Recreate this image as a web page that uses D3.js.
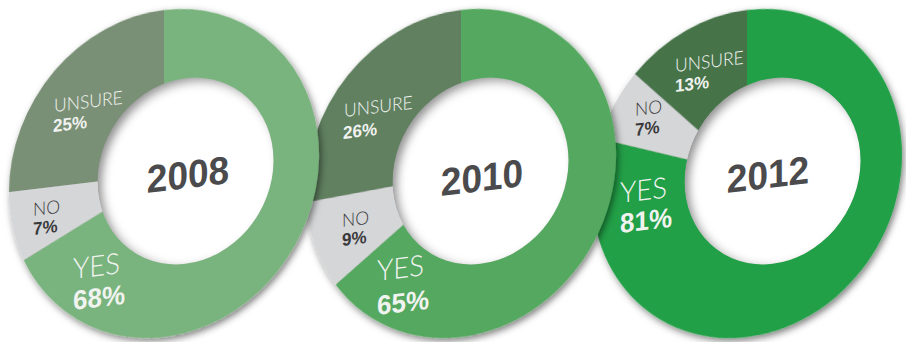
<!DOCTYPE html>
<html>
<head>
<meta charset="utf-8">
<script src="https://cdn.jsdelivr.net/npm/d3@7"></script>
<style>
  html, body { margin: 0; padding: 0; background: #fff; }
  svg { display: block; }
</style>
</head>
<body>
<svg id="chart" width="906" height="342"></svg>
<script>
// Survey answers by year (percent)
const years = ["2008", "2010", "2012"];
const answers = ["YES", "NO", "UNSURE"];
const yesPct = [68, 65, 81];
const noPct = [7, 9, 7];
const unsurePct = [25, 26, 13];

// Fills per year
const yesColors = ["#79b37d", "#54a85e", "#21a046"];
const unsureColors = ["#7a9076", "#608060", "#467349"];
const noColor = "#d5d6d8";

// Ring geometry: every ring lies in a slightly tilted plane
const skew = -0.12, stretch = 1.055;
const ringCx = [164, 461, 747];
const ringCy = 173.5;
const outerR = 155;
const holeCx = [185.5, 480.5, 772.5];
const holeCy = 171;
const holeR = 88;

// Label anchors in page pixels (left end of baseline; year = centre of baseline)
const labelPos = [
  { YES: [[73, 279], [73, 310]], NO: [[33, 216], [33, 235]], UNSURE: [[54, 112], [53, 132]], year: [188, 188] },
  { YES: [[377, 281], [377, 315]], NO: [[342, 227], [342, 246]], UNSURE: [[344, 117], [343, 139]], year: [482, 191] },
  { YES: [[620, 203], [620, 233]], NO: [[635, 116], [635, 136]], UNSURE: [[675, 72], [675, 92]], year: [768, 188] }
];

const svg = d3.select("#chart");
const defs = svg.append("defs");

defs.append("filter").attr("id", "ringShadow")
  .attr("x", "-20%").attr("y", "-20%").attr("width", "140%").attr("height", "140%")
  .append("feDropShadow")
  .attr("dx", 2).attr("dy", 3).attr("stdDeviation", 3.5)
  .attr("flood-color", "#000").attr("flood-opacity", 0.5);

defs.append("filter").attr("id", "soft")
  .attr("x", "-20%").attr("y", "-20%").attr("width", "140%").attr("height", "140%")
  .append("feGaussianBlur").attr("stdDeviation", 5);

const pie = d3.pie().sort(null).value(d => d.value);
const arc = d3.arc().innerRadius(0).outerRadius(outerR);

function toLocal(i, x, y) {
  const u = x - ringCx[i];
  const v = (y - ringCy - skew * u) / stretch;
  return [u, v];
}

// Draw from right to left so the earlier year sits on top
for (let i = years.length - 1; i >= 0; i--) {
  const data = [
    { key: "YES", value: yesPct[i], color: yesColors[i] },
    { key: "NO", value: noPct[i], color: noColor },
    { key: "UNSURE", value: unsurePct[i], color: unsureColors[i] }
  ];

  const g = svg.append("g")
    .attr("transform", `matrix(1,${skew},0,${stretch},${ringCx[i]},${ringCy})`);

  const ring = g.append("g").attr("filter", "url(#ringShadow)");
  ring.selectAll("path")
    .data(pie(data))
    .join("path")
    .attr("d", arc)
    .attr("fill", d => d.data.color);

  // Hole with a soft inner shadow along its upper-left rim
  const [hx, hy] = toLocal(i, holeCx[i], holeCy);
  const clipId = "hole" + i;
  defs.append("clipPath").attr("id", clipId)
    .append("circle").attr("cx", hx).attr("cy", hy).attr("r", holeR);
  const hole = g.append("g").attr("clip-path", `url(#${clipId})`);
  hole.append("circle").attr("cx", hx).attr("cy", hy).attr("r", holeR).attr("fill", "#8f8f8f");
  hole.append("circle").attr("cx", hx + 5).attr("cy", hy + 4).attr("r", holeR + 1)
    .attr("fill", "#fff").attr("filter", "url(#soft)");

  // Answer labels
  data.forEach(d => {
    const [p1, p2] = labelPos[i][d.key];
    const big = d.key === "YES";
    const light = d.key === "NO" ? "#3a3a3c" : "#f1f3f1";
    const a = toLocal(i, p1[0], p1[1]);
    const b = toLocal(i, p2[0], p2[1]);
    g.append("text")
      .attr("x", a[0]).attr("y", a[1])
      .attr("font-family", "Lato, 'Open Sans', sans-serif")
      .attr("font-weight", 300)
      .attr("font-size", big ? 27.5 : 17.5)
      .attr("fill", light)
      .text(d.key);
    g.append("text")
      .attr("x", b[0]).attr("y", b[1])
      .attr("font-family", "'Liberation Sans', Arial, sans-serif")
      .attr("font-weight", 700)
      .attr("font-size", big ? 26 : 17)
      .attr("fill", light)
      .text(d.value + "%");
  });

  const yp = toLocal(i, labelPos[i].year[0], labelPos[i].year[1]);
  g.append("text")
    .attr("x", yp[0]).attr("y", yp[1])
    .attr("text-anchor", "middle")
    .attr("font-family", "'Liberation Sans', Arial, sans-serif")
    .attr("font-weight", 700)
    .attr("font-size", 37)
    .attr("fill", "#4b4b4d")
    .text(years[i]);
}
</script>
</body>
</html>
